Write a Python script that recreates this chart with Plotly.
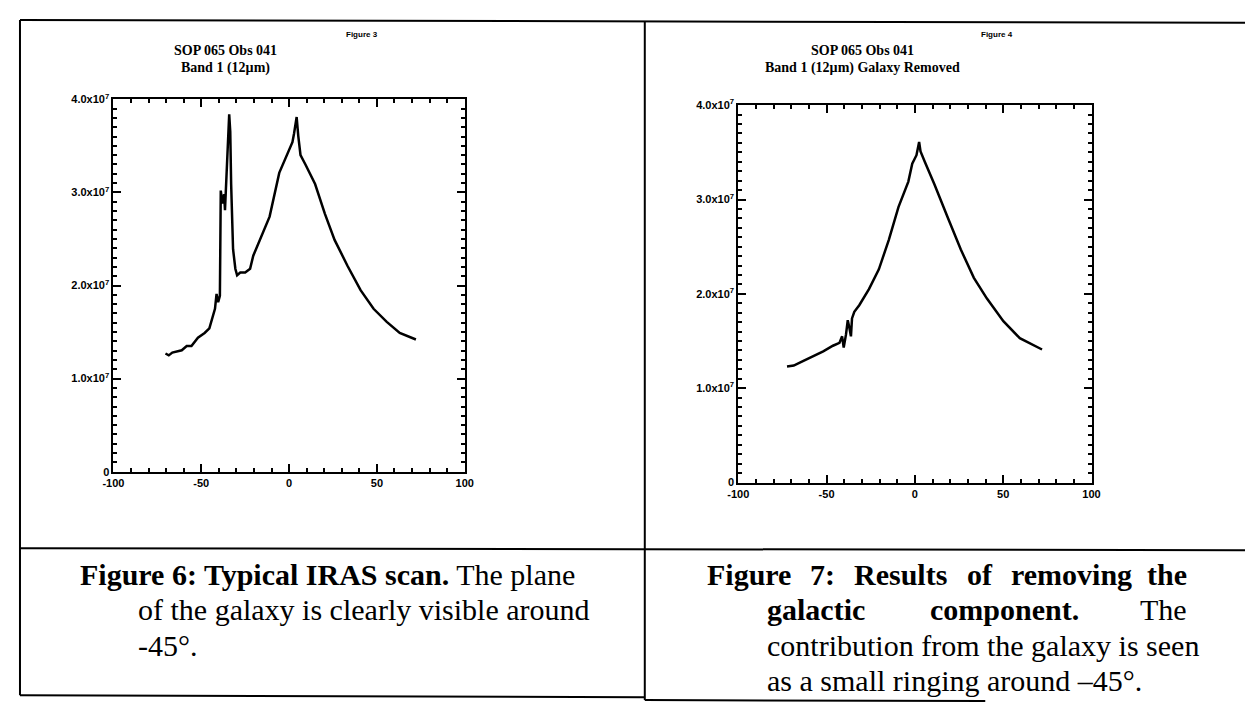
import plotly.graph_objects as go

# page is 1254x711; plotly's html body has an 8px margin, so the figure is drawn 8px in
OFF = 8
W, H = 1254 - OFF, 711 - OFF

# ---------------- data ----------------
scan_x = [-70.4, -68.5, -66.5, -64.8, -61.1, -58.3, -55.6, -51.9, -48.1, -45.4, -43.5, -42.2, -41.3,
          -40.4, -39.4, -38.9, -38.0, -37.0, -36.5, -35.7, -34.8, -34.1, -33.5, -33.0, -31.9, -30.6,
          -29.6, -27.8, -25.0, -22.2, -20.4, -15.7, -11.1, -5.6, 0.0, 1.9, 2.8, 4.3, 5.2, 6.5, 9.3,
          14.8, 20.4, 25.9, 33.3, 40.7, 48.1, 55.6, 63.0, 72.2]
scan_y = [12.7, 12.5, 12.8, 12.9, 13.05, 13.5, 13.5, 14.4, 14.9, 15.4, 16.5, 17.5, 19.1,
          18.2, 18.9, 30.2, 28.8, 29.8, 28.1, 31.9, 34.4, 38.4, 36.5, 30.9, 23.9, 21.8,
          21.1, 21.4, 21.4, 21.8, 23.2, 25.3, 27.4, 32.1, 34.6, 35.4, 36.3, 38.1, 36.1, 34.0, 33.0,
          30.9, 27.7, 24.9, 22.1, 19.5, 17.5, 16.1, 14.9, 14.2]  # units of 1e6

clean_x = [-72.4, -68.6, -63.1, -57.5, -51.9, -46.4, -42.7, -41.2, -40.3, -39.0, -38.0, -37.1, -36.2,
           -35.6, -34.3, -31.5, -26.0, -20.4, -14.8, -9.3, -3.7, -1.5, 0.9, 2.4, 3.2, 5.6, 11.1,
           18.6, 26.0, 33.4, 40.8, 50.1, 59.4, 72.0]
clean_y = [12.3, 12.4, 12.9, 13.4, 13.9, 14.5, 14.8, 15.5, 14.3, 15.7, 17.2, 16.4, 15.5,
           17.4, 18.1, 18.8, 20.5, 22.6, 25.7, 29.2, 31.9, 33.8, 34.7, 36.1, 35.1, 34.0, 31.6,
           28.1, 24.7, 21.7, 19.5, 17.1, 15.3, 14.1]  # units of 1e6

y_tickvals = [0, 1e7, 2e7, 3e7, 4e7]
y_ticktext = ["0", "1.0x10<sup>7</sup>", "2.0x10<sup>7</sup>", "3.0x10<sup>7</sup>", "4.0x10<sup>7</sup>"]
x_tickvals = [-100, -50, 0, 50, 100]
x_ticktext = ["-100", "-50", "0", "50", "100"]

titles_left = ["SOP 065 Obs 041", "Band 1 (12µm)"]
titles_right = ["SOP 065 Obs 041", "Band 1 (12µm) Galaxy Removed"]
fig_labels = ["Figure 3", "Figure 4"]

# ---------------- helpers: page pixels -> paper ----------------
def px(x):
    return (x - OFF) / W

def py(y):
    return 1 - (y - OFF) / H

fig = go.Figure()
fig.add_trace(go.Scatter(x=scan_x, y=[v * 1e6 for v in scan_y], mode="lines",
                         line=dict(color="black", width=2.5), xaxis="x", yaxis="y", showlegend=False))
fig.add_trace(go.Scatter(x=clean_x, y=[v * 1e6 for v in clean_y], mode="lines",
                         line=dict(color="black", width=2.5), xaxis="x2", yaxis="y2", showlegend=False))

tickfont = dict(family="Liberation Sans", size=11, color="black", weight="bold")

def xaxis(dom, anchor):
    return dict(domain=dom, anchor=anchor, range=[-100, 100], tickvals=x_tickvals, ticktext=x_ticktext,
                ticks="inside", ticklen=8, tickwidth=2, tickcolor="black", showline=True, linewidth=2,
                linecolor="black", mirror="allticks", showgrid=False, zeroline=False, tickfont=tickfont,
                minor=dict(dtick=10, tick0=0, ticks="inside", ticklen=4, tickwidth=2, tickcolor="black",
                           showgrid=False))

def yaxis(dom, anchor):
    return dict(domain=dom, anchor=anchor, range=[0, 4e7], tickvals=y_tickvals, ticktext=y_ticktext,
                ticks="inside", ticklen=8, tickwidth=2, tickcolor="black", showline=True, linewidth=2,
                linecolor="black", mirror="allticks", showgrid=False, zeroline=False, tickfont=tickfont,
                minor=dict(dtick=1e6, tick0=0, ticks="inside", ticklen=4, tickwidth=1.5, tickcolor="black",
                           showgrid=False))

fig.update_layout(
    width=W, height=H, autosize=False,
    margin=dict(l=0, r=0, t=0, b=0),
    paper_bgcolor="white", plot_bgcolor="white",
    xaxis=xaxis([px(104), px(461)], "y"),
    yaxis=yaxis([py(473), py(93)], "x"),
    xaxis2=xaxis([px(739), px(1098)], "y2"),
    yaxis2=yaxis([py(484), py(99)], "x2"),
)

ann = []
def text(x, y, t, family, size, bold=False, anchor="center"):
    ann.append(dict(x=px(x), y=py(y), text=t, xanchor=anchor, yanchor="middle",
                    xref="paper", yref="paper", showarrow=False,
                    font=dict(family=family, size=size, color="black",
                              weight="bold" if bold else "normal")))

SERIF = "Liberation Serif"
SANS = "Liberation Sans"
text(218, 43, titles_left[0], SERIF, 14, True)
text(218, 61, titles_left[1], SERIF, 14, True)
text(865, 43, titles_right[0], SERIF, 14, True)
text(865, 61, titles_right[1], SERIF, 14, True)
text(357, 27, fig_labels[0], SANS, 8, True)
text(1002, 27, fig_labels[1], SANS, 8, True)

CS = 30
L1, L2, L3, L4 = 578, 614, 650, 686
# left caption
text(68, L1, "<b>Figure 6: Typical IRAS scan.</b> The plane", SERIF, CS, anchor="left")
text(127, L2, "of the galaxy is clearly visible around", SERIF, CS, anchor="left")
text(127, L3, "-45°.", SERIF, CS, anchor="left")
# right caption (justified lines placed word by word)
text(705, L1, "Figure", SERIF, CS, True, "left")
text(810, L1, "7:", SERIF, CS, True, "left")
text(855, L1, "Results", SERIF, CS, True, "left")
text(969, L1, "of", SERIF, CS, True, "left")
text(1014, L1, "removing", SERIF, CS, True, "left")
text(1197, L1, "the", SERIF, CS, True, "right")
text(766, L2, "galactic", SERIF, CS, True, "left")
text(932, L2, "component.", SERIF, CS, True, "left")
text(1197, L2, "The", SERIF, CS, False, "right")
text(766, L3, "contribution from the galaxy is seen", SERIF, CS, anchor="left")
text(766, L4, "as a small ringing around –45°.", SERIF, CS, anchor="left")
fig.update_layout(annotations=ann)

# table frame lines (page pixel coordinates)
frame = [
    (9, 12, 1254, 15), (9, 12, 9, 701), (644, 14, 644, 706),
    (9, 551, 1254, 553), (9, 701, 644, 703), (644, 706, 990, 707),
]
fig.update_layout(shapes=[dict(type="line", xref="paper", yref="paper", x0=px(a), y0=py(b), x1=px(c), y1=py(d),
                               line=dict(color="black", width=2)) for a, b, c, d in frame])

fig.write_html("out.html")
